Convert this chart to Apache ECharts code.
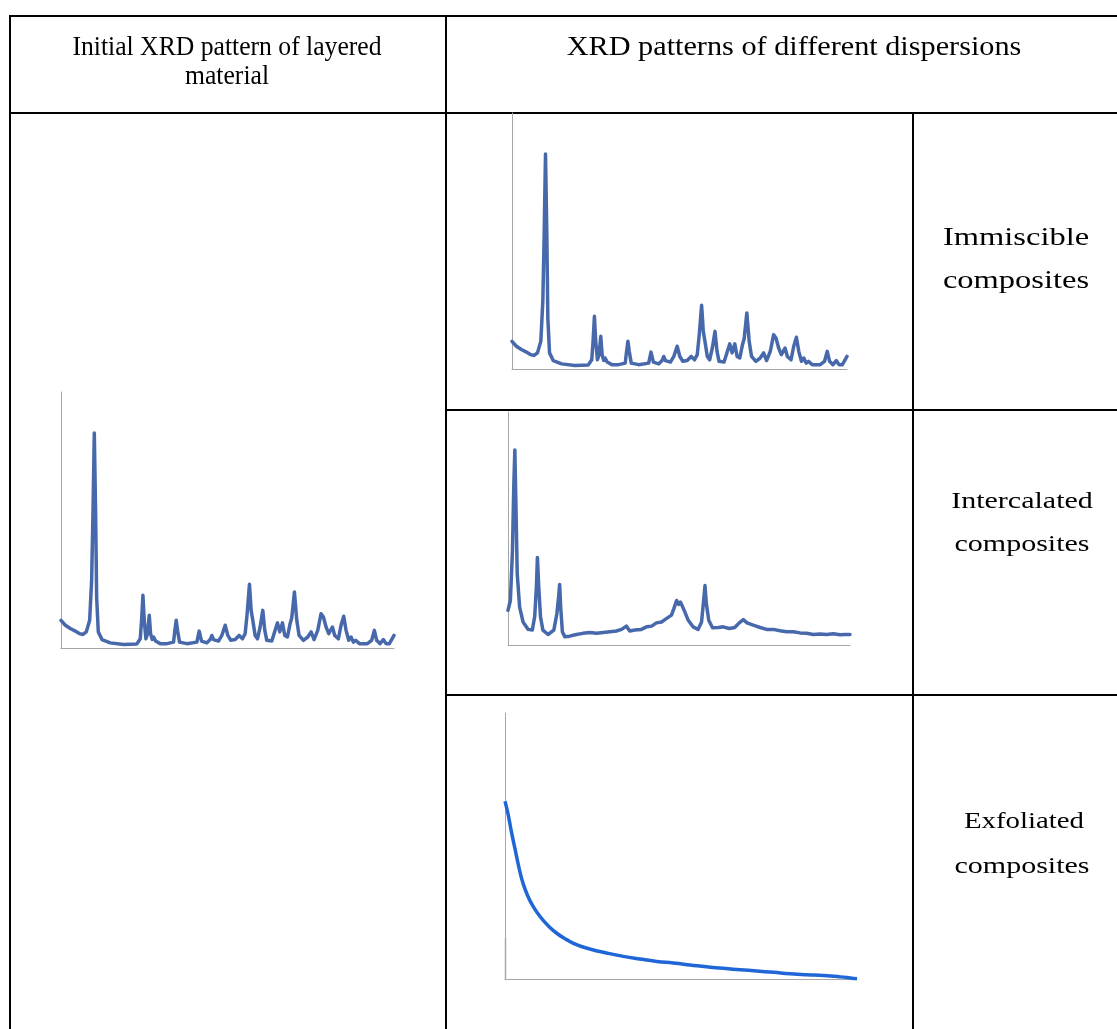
<!DOCTYPE html>
<html><head><meta charset="utf-8">
<script src="https://cdn.jsdelivr.net/npm/echarts@6/dist/echarts.min.js"></script>
<style>html,body{margin:0;padding:0;background:#fff;overflow:hidden}#c{width:1117px;height:1029px}</style>
</head><body><div id="c"></div>
<script>
// ---- Data (x: % of axis width, y: % of axis height) ----
// Initial XRD pattern of the layered material (also the immiscible composite)
const layeredX = [0,1.3,2.8,4.3,5.6,6.6,7.6,8.6,9.2,9.6,10,10.4,10.7,11.2,12.3,14.8,18.8,22.8,23.8,24.2,24.6,25,25.5,26,26.5,26.9,27.4,27.8,28.4,29.8,31.8,33.8,34.2,34.6,35,35.6,37.8,40.8,41.5,42.2,43.8,44.8,45.3,45.8,47.3,48.3,49.3,50.1,51,52.3,53.5,54.5,55.3,55.9,56.6,57.1,57.6,58.3,59,59.8,60.6,61.2,61.8,63.3,64.3,65,65.7,66.5,67.2,68,68.8,69.3,70.1,70.8,71.5,72.8,74.1,75.1,76,77.1,78.1,78.8,79.6,80.4,81.5,82.2,83.3,84.1,84.9,85.6,86.4,87.1,87.8,88.5,89.6,90.8,92,93.3,94.1,94.8,95.8,96.8,97.6,98.6,99.3,100];
const layeredY = [10.8,8.9,7.6,6.6,5.6,5.3,6.3,10.8,26.4,52.5,84,52.5,19.9,6.3,3.3,2.0,1.4,1.6,3.6,10.8,20.6,10.8,3.6,5.6,12.8,5.6,3.3,4.3,2.7,1.7,1.7,2.3,6.9,10.8,6.9,2.3,1.7,2.3,6.6,2.7,2.0,3.3,4.9,3.3,2.7,4.9,8.9,4.9,3.0,3.3,4.9,3.6,5.6,13.4,24.9,14.7,10.8,4.9,3.6,8.2,14.7,6.9,3.0,2.7,6.9,9.8,6.3,9.8,4.9,4.3,9.5,11.8,21.9,10.8,4.9,3.0,4.3,6.3,3.3,6.9,13.4,12.1,8.2,5.6,8.2,4.9,3.6,8.9,12.4,6.9,3.0,4.3,2.3,3.0,1.7,1.7,1.7,3.0,6.9,3.0,1.7,3.3,1.7,1.7,3.3,4.9];

// Intercalated composite
const intercalX = [0,0.7,1.3,1.7,2.0,2.3,2.7,3.4,4.4,5.9,7.1,7.8,8.3,8.6,9.0,9.5,10.2,11.7,13.4,14.3,14.8,15.1,15.4,15.9,16.6,18.0,20.0,21.9,23.9,25.9,27.8,29.8,31.7,33.2,34.6,35.6,37.1,39.0,40.5,42.0,43.4,44.9,46.3,47.8,48.5,49.3,49.9,50.4,51.0,51.7,52.7,54.1,55.6,56.6,57.2,57.6,58.0,58.7,59.8,61.5,62.9,64.7,66.3,67.6,68.8,69.9,71.7,73.7,75.6,77.6,79.5,81.5,83.4,85.4,87.3,89.3,91.2,93.2,95.1,97.1,98.5,100];
const intercalY = [14.9,19.1,40.4,68.8,83.7,61.7,30.5,16.3,9.9,6.7,6.4,12.1,24.8,37.6,24.8,12.1,6.4,4.5,6.4,13.5,20.6,26.0,16.3,5.7,3.5,3.8,4.5,5.0,5.4,5.0,5.4,5.7,6.0,6.7,8.1,6.0,6.4,6.7,7.8,8.1,9.5,9.9,11.3,12.8,15.6,19.1,17.4,18.4,16.6,14.2,10.6,7.8,6.7,9.9,19.1,25.5,17.7,10.6,7.4,7.5,7.8,7.1,7.5,9.5,10.9,9.5,8.5,7.5,6.7,6.7,6.1,5.7,5.7,5.2,5.0,4.5,4.7,4.5,4.8,4.4,4.5,4.5];

// Exfoliated composite
const exfolX = [0,0.9,1.8,2.8,4.0,5.1,6.5,8.0,9.9,12.2,14.6,17.5,20.3,24.1,28.8,33.6,38.3,43.1,47.8,52.6,57.3,62.0,66.8,71.5,76.3,81.0,85.8,90.5,95.3,98.1,100];
const exfolY = [66.8,61.8,55.5,49.2,41.7,36.1,31.1,27.3,23.6,20.1,17.3,14.8,12.9,11.3,9.8,8.5,7.5,6.6,6.0,5.3,4.6,4.0,3.5,3.0,2.5,2.0,1.6,1.3,0.8,0.4,0.1];

// Table texts
const headerLeft = ['Initial XRD pattern of layered', 'material'];
const headerRight = 'XRD patterns of different dispersions';
const rowLabels = [['Immiscible', 'composites'], ['Intercalated', 'composites'], ['Exfoliated', 'composites']];

// ---- Build ----
const zip = (xs, ys) => xs.map((x, i) => [x, ys[i]]);
const grids = [
  {left: 61, top: 392, width: 333, height: 256},
  {left: 512, top: 113, width: 335, height: 256},
  {left: 508, top: 412, width: 342, height: 233},
  {left: 505, top: 713, width: 352, height: 266}
].map(g => Object.assign({outerBoundsMode: 'none', containLabel: false}, g));

const axisBase = (i) => ({
  type: 'value', gridIndex: i, min: 0, max: 100,
  axisLine: {show: true, onZero: false, lineStyle: {color: '#a6a6a6', width: 1}},
  axisTick: {show: false}, axisLabel: {show: false}, splitLine: {show: false}
});
const xAxes = [0,1,2,3].map(axisBase);
const yAxes = [0,1,2,3].map(axisBase);

const xrdStyle = {color: '#4769ab', width: 3.5, join: 'round', cap: 'round'};
const series = [
  {type: 'line', xAxisIndex: 0, yAxisIndex: 0, data: zip(layeredX, layeredY), showSymbol: false, lineStyle: xrdStyle, silent: true},
  {type: 'line', xAxisIndex: 1, yAxisIndex: 1, data: zip(layeredX, layeredY), showSymbol: false, lineStyle: xrdStyle, silent: true},
  {type: 'line', xAxisIndex: 2, yAxisIndex: 2, data: zip(intercalX, intercalY), showSymbol: false, lineStyle: xrdStyle, silent: true},
  {type: 'line', xAxisIndex: 3, yAxisIndex: 3, data: zip(exfolX, exfolY), showSymbol: false, smooth: true, lineStyle: {color: '#1f66d6', width: 3.5}, silent: true}
];

const line = (x1, y1, x2, y2, c, w) => ({type: 'line', silent: true, shape: {x1, y1, x2, y2}, style: {stroke: c || '#000', lineWidth: w || 2}});
const serif = '"Liberation Serif", "Times New Roman", serif';
const txt = (s, x, y, size, sx) => ({type: 'text', silent: true, x, y, scaleX: sx || 1,
  style: {text: s, x: 0, y: 0, fill: '#000', fontSize: size, fontFamily: serif, align: 'center', verticalAlign: 'middle'}});

const graphic = [
  line(10, 16, 1117, 16),
  line(10, 113, 1117, 113),
  line(10, 15, 10, 1029),
  line(446, 15, 446, 1029),
  line(913, 112, 913, 1029),
  line(446, 410, 1117, 410),
  line(446, 695, 1117, 695),
  // darker axis segments seen in the exfoliated panel
  line(505.5, 938, 505.5, 979, '#333', 1.2),
  line(563, 979.5, 638, 979.5, '#333', 1.2),
  txt(headerLeft[0], 227, 48, 27, 0.95),
  txt(headerLeft[1], 227, 77, 27, 0.95),
  txt(headerRight, 794, 48, 27, 1.12),
  txt(rowLabels[0][0], 1016, 238, 25, 1.3),
  txt(rowLabels[0][1], 1016, 281, 25, 1.3),
  txt(rowLabels[1][0], 1022, 502, 24, 1.25),
  txt(rowLabels[1][1], 1022, 545, 24, 1.25),
  txt(rowLabels[2][0], 1024, 822, 24, 1.2),
  txt(rowLabels[2][1], 1022, 867, 24, 1.25)
];

const chart = echarts.init(document.getElementById('c'), null, {renderer: 'canvas'});
chart.setOption({
  animation: false,
  backgroundColor: '#fff',
  grid: grids, xAxis: xAxes, yAxis: yAxes, series, graphic
});
</script></body></html>
